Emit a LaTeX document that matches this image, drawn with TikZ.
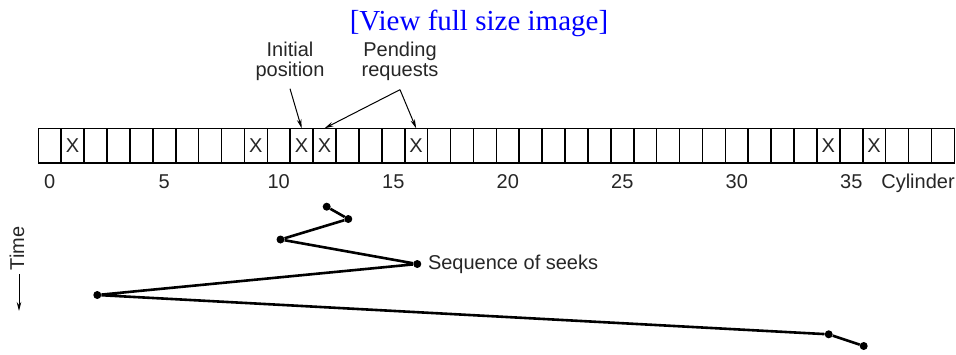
\documentclass[tikz,border=0pt]{standalone}
\usepackage{fontspec}
\setmainfont{Liberation Sans}
\newfontfamily\linkfont{Liberation Serif}
\definecolor{ink}{HTML}{262626}
\definecolor{linkblue}{HTML}{0000FF}
\usetikzlibrary{arrows.meta}

\begin{document}
\begin{tikzpicture}[x=1pt,y=-1pt,>={Stealth[length=9pt,width=4.5pt]},
  every node/.style={font=\fontsize{20}{20}\selectfont,text=ink},
  cell/.style={draw=black,line width=1.6pt,rectangle,minimum width=22.9pt,minimum height=34.4pt,inner sep=0pt,outer sep=0pt},
  seek/.style={circle,fill=black,inner sep=0pt,minimum size=8pt},
  pointer/.style={->,black,line width=1pt}]
\useasboundingbox (0,0) rectangle (956,354);
\node[font=\linkfont\fontsize{29}{29}\selectfont,text=linkblue,anchor=base] (link) at (479,30) {[View full size image]};
% cylinder strip
\foreach \i in {0,...,39}
  \node[cell] (c\i) at (49.75+22.9*\i,145.5) {};
\foreach \i in {1,9,11,12,16,34,36}
  \node (x\i) at (c\i.center) {X};
\foreach \n in {0,5,...,35}
  \node[anchor=base] (n\n) at ([yshift=-25.3pt]c\n.south) {\n};
\node[anchor=base] (cyl) at (918,188) {Cylinder};
% annotations
\node[align=center,anchor=base] (init) at (290,76) {Initial\\position};
\node[align=center,anchor=base] (pend) at (400,76) {Pending\\requests};
\coordinate (fork) at ([yshift=-6pt]pend.south);
\draw[pointer] ([yshift=-5pt]init.south) -- (c11.north);
\draw[pointer] (fork) -- (c12.north);
\draw[pointer] (fork) -- (c16.north);
% seeks
\node[seek] (s1) at (326.7,206.7) {};
\node[seek] (s2) at (348.3,219) {};
\node[seek] (s3) at (280.5,239.5) {};
\node[seek] (s4) at (417.3,264) {};
\node[seek] (s5) at (97.3,295) {};
\node[seek] (s6) at (828.7,334.3) {};
\node[seek] (s7) at (863.7,346) {};
\draw[line width=2.6pt] (s1) -- (s2) -- (s3) -- (s4) -- (s5) -- (s6) -- (s7);
\node[anchor=west] (seqlbl) at ([xshift=3pt]s4.east) {Sequence of seeks};
% time axis
\node[rotate=90] (time) at (17,248.5) {Time};
\coordinate (timeend) at (19,311);
\draw[pointer] (timeend |- time.west) -- (timeend);
\end{tikzpicture}
\end{document}
